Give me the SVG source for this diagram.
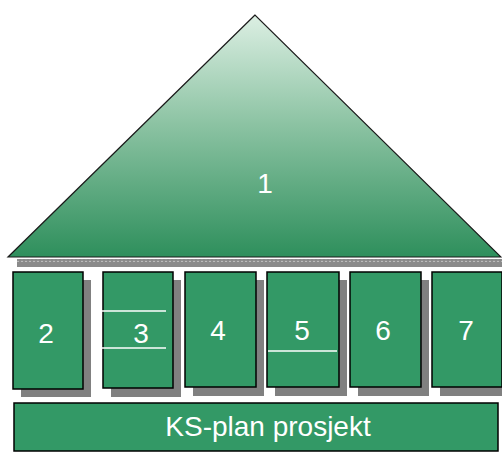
<svg xmlns="http://www.w3.org/2000/svg" width="502" height="452" viewBox="0 0 502 452">
<defs>
<linearGradient id="tri" x1="0" y1="0" x2="0" y2="1">
<stop offset="0" stop-color="#dcefe3"/>
<stop offset="0.45" stop-color="#8cc3a3"/>
<stop offset="1" stop-color="#2e8f5c"/>
</linearGradient>
<pattern id="scallop" width="4" height="4" patternUnits="userSpaceOnUse">
<circle cx="2" cy="2" r="1.2" fill="#bdbdbd"/>
</pattern>
</defs>
<style>
.box{fill:#339966;stroke:#000;stroke-width:1.5}
.sh{fill:#808080}
.lbl{font-family:"Liberation Sans",Arial,sans-serif;font-size:28px;fill:#fff;text-anchor:middle}
.ln{stroke:#fff;stroke-width:1.5}
</style>
<g id="node1">
<rect x="17" y="259" width="485" height="8" fill="#8a8a8a"/>
<rect x="17" y="259" width="485" height="3" fill="url(#scallop)"/>
<polygon points="255,15 8,257 501,257" fill="url(#tri)" stroke="#1a1a1a" stroke-width="1.2"/>
<text class="lbl" x="265" y="193">1</text>
</g>
<g id="node2">
<rect class="sh" x="21" y="280" width="70" height="117"/>
<rect class="box" x="13" y="272" width="70" height="117"/>
<text class="lbl" x="46" y="343">2</text>
</g>
<g id="node3">
<rect class="sh" x="111" y="280" width="70" height="117"/>
<rect class="box" x="103" y="272" width="70" height="116"/>
<line class="ln" x1="102" y1="311" x2="166" y2="311"/>
<line class="ln" x1="102" y1="348" x2="166" y2="348"/>
<text class="lbl" x="141" y="343">3</text>
</g>
<g id="node4">
<rect class="sh" x="193" y="280" width="71" height="116"/>
<rect class="box" x="185" y="272" width="71" height="115"/>
<text class="lbl" x="218" y="340">4</text>
</g>
<g id="node5">
<rect class="sh" x="275" y="280" width="72" height="116"/>
<rect class="box" x="267" y="272" width="72" height="115"/>
<line class="ln" x1="268" y1="351" x2="337" y2="351"/>
<text class="lbl" x="302" y="340">5</text>
</g>
<g id="node6">
<rect class="sh" x="358" y="280" width="71" height="116"/>
<rect class="box" x="350" y="272" width="71" height="115"/>
<text class="lbl" x="383" y="340">6</text>
</g>
<g id="node7">
<rect class="sh" x="440" y="280" width="70" height="116"/>
<rect class="box" x="432" y="272" width="70" height="115"/>
<text class="lbl" x="466" y="340">7</text>
</g>
<g id="node8">
<rect class="box" x="14" y="403" width="484" height="48"/>
<text class="lbl" x="268" y="436">KS-plan prosjekt</text>
</g>
<g id="connectors"/>
</svg>
